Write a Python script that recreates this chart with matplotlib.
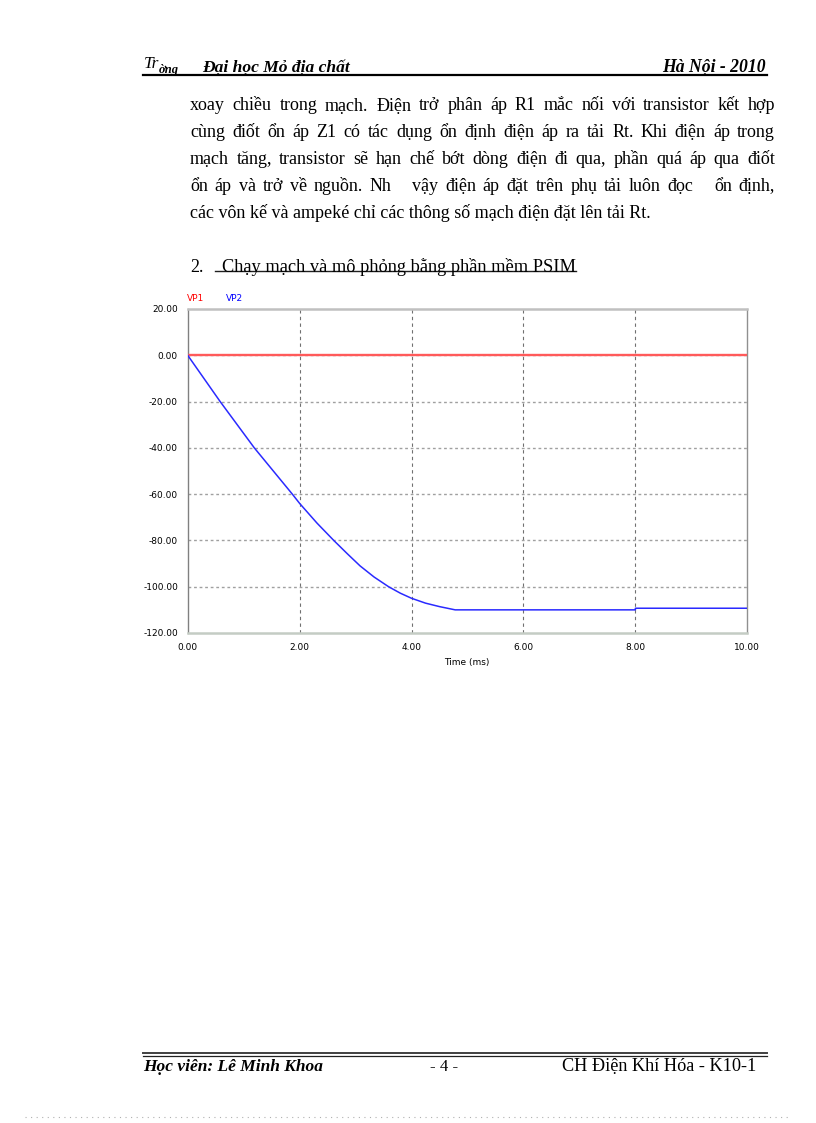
import matplotlib.pyplot as plt
from matplotlib.lines import Line2D
import numpy as np

W, H = 816, 1123

# simulation traces
time_ms = [0.0, 0.58, 1.19, 1.87, 2.0, 2.31, 2.61, 2.85, 3.08, 3.33, 3.59, 3.8, 4.0, 4.25, 4.5, 4.78,
           8.0, 8.0, 10.0]
vp2 = [0.0, -20.0, -40.0, -60.0, -64.0, -72.5, -80.0, -85.7, -91.0, -95.8, -100.0, -102.8, -105.0,
       -107.1, -108.6, -110.0, -110.0, -109.3, -109.3]
vp1_time = [0.0, 10.0]
vp1 = [0.0, 0.0]

x_ticks = [0, 2, 4, 6, 8, 10]
y_ticks = [20, 0, -20, -40, -60, -80, -100, -120]

header_left = "Đại học Mỏ địa chất"
header_right = "Hà Nội - 2010"
body_lines = [
    "xoay chiều trong mạch. Điện trở phân áp R1 mắc nối với transistor kết hợp",
    "cùng điốt ổn áp Z1 có tác dụng ổn định điện áp ra tải Rt. Khi điện áp trong",
    "mạch tăng, transistor sẽ hạn chế bớt dòng điện đi qua, phần quá áp qua điốt",
    "ổn áp và trở về nguồn. Nh   vậy điện áp đặt trên phụ tải luôn đọc   ổn định,",
    "các vôn kế và ampeké chỉ các thông số mạch điện đặt lên tải Rt.",
]
heading = "Chạy mạch và mô phỏng bằng phần mềm PSIM"
footer_left = "Học viên: Lê Minh Khoa"
footer_mid = "- 4 -"
footer_right = "CH Điện Khí Hóa - K10-1"

fig = plt.figure(figsize=(W / 100, H / 100), dpi=100)
fig.patch.set_facecolor("white")
renderer = fig.canvas.get_renderer()
serif = ["Liberation Serif", "DejaVu Serif"]


def fx(x):
    return x / W


def fy(y):
    return 1 - y / H


def fit_text(s, x0, x1, y, **kw):
    t = fig.text(fx(x0), fy(y), s, fontsize=10, va="baseline", ha="left", **kw)
    w = t.get_window_extent(renderer).width
    t.set_fontsize(10 * (x1 - x0) / w)
    return t


def justify(s, x0, x1, y, size, **kw):
    words = s.split(" ")
    texts = [fig.text(0, fy(y), w_, fontsize=size, va="baseline", ha="left", **kw) for w_ in words]
    widths = [t.get_window_extent(renderer).width for t in texts]
    gap = (x1 - x0 - sum(widths)) / (len(words) - 1)
    x = x0
    for t, w_ in zip(texts, widths):
        t.set_x(fx(x))
        x += w_ + gap


def hline(x0, x1, y, **kw):
    fig.add_artist(Line2D([fx(x0), fx(x1)], [fy(y), fy(y)], transform=fig.transFigure, **kw))


# header
fig.text(fx(144), fy(68), "Tr", fontsize=12.5, family=serif, style="italic", va="baseline")
fig.text(fx(159), fy(73), "ờng", fontsize=9, family=serif, style="italic", weight="bold", va="baseline")
fit_text(header_left, 202, 350, 72, family=serif, style="italic", weight="bold")
fit_text(header_right, 662, 766, 72, family=serif, style="italic", weight="bold")
hline(143, 767, 75, color="black", lw=1.6)

# paragraph
t = fit_text(body_lines[-1], 190, 653, 218, family=serif)
body_size = t.get_fontsize()
for i, line in enumerate(body_lines[:-1]):
    justify(line, 190, 775, 110.5 + 26.9 * i, body_size, family=serif)

# section heading
fig.text(fx(190), fy(272), "2.", fontsize=body_size, family=serif, va="baseline")
fit_text(heading, 222, 576, 272, family=serif)
hline(215, 576, 270.5, color="#202020", lw=1.0)

# PSIM chart
ax = fig.add_axes([fx(187.7), fy(633), (747.3 - 187.7) / W, (633 - 309) / H])
ax.plot(vp1_time, vp1, color="#ff5a5a", lw=1.7, zorder=3)
ax.plot(time_ms, vp2, color="#2a2aff", lw=1.1, zorder=3)
ax.set_xlim(0, 10)
ax.set_ylim(-120, 20)
ax.set_xticks(x_ticks)
ax.set_yticks(y_ticks)
ax.set_xticklabels([f"{v:.2f}" for v in x_ticks])
ax.set_yticklabels([f"{v:.2f}" for v in y_ticks])
ax.tick_params(length=0, labelsize=6.5, colors="#000000")
ax.tick_params(axis="x", pad=7)
ax.tick_params(axis="y", pad=7)
for v in x_ticks[1:-1]:
    ax.axvline(v, color="#707070", lw=0.8, ls=(0, (3, 3)), zorder=1)
for v in y_ticks[1:-1]:
    ax.axhline(v, color="#a0a0a0", lw=1.0, ls=(0, (2, 2)), zorder=1)
ax.spines["top"].set_color("#c0c0c0")
ax.spines["top"].set_linewidth(1.8)
ax.spines["bottom"].set_color("#c4ccc4")
ax.spines["bottom"].set_linewidth(1.8)
ax.spines["left"].set_color("#808080")
ax.spines["left"].set_linewidth(1.0)
ax.spines["right"].set_color("#909090")
ax.spines["right"].set_linewidth(1.0)

fig.text(fx(187.3), fy(298.3), "VP1", color="#ff0000", fontsize=6.5, va="center")
fig.text(fx(225.7), fy(298.3), "VP2", color="#0000ff", fontsize=6.5, va="center")
fig.text(fx(467), fy(663), "Time (ms)", fontsize=6.5, ha="center", va="center", color="#000000")

# footer
hline(143, 767, 1053, color="#404040", lw=1.4)
hline(143, 767, 1056, color="#202020", lw=0.9)
fit_text(footer_left, 143, 323, 1071, family=serif, style="italic", weight="bold")
fit_text(footer_mid, 430, 458, 1071, family=serif)
fit_text(footer_right, 562, 757, 1071, family=serif)
hline(25, 790, 1117, color="#b0b0b0", lw=0.8, ls=(0, (1, 4)))

fig.savefig("out.png", dpi=100)
